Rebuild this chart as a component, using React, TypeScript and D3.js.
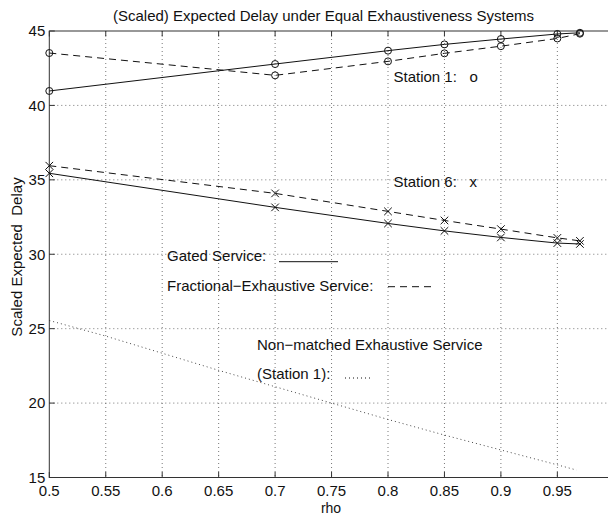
import { useEffect, useRef } from 'react'
import * as d3 from 'd3'

// sample points (rho) shared by the four marked curves
const rhoPts = [0.5, 0.7, 0.8, 0.85, 0.9, 0.95, 0.97]
const st1Gated = [40.97, 42.78, 43.68, 44.1, 44.46, 44.8, 44.88]
const st1Frac = [43.52, 42.02, 42.96, 43.5, 43.98, 44.5, 44.82]
const st6Gated = [35.44, 33.15, 32.07, 31.57, 31.13, 30.75, 30.69]
const st6Frac = [35.95, 34.09, 32.88, 32.27, 31.69, 31.1, 30.9]

// non-matched exhaustive service, station 1 (dotted)
const nmRho = [0.5, 0.55, 0.6, 0.65, 0.7, 0.75, 0.8, 0.85, 0.9, 0.95, 0.967]
const nmDelay = [25.55, 24.5, 23.35, 22.2, 21.1, 20.0, 18.9, 17.85, 16.85, 15.85, 15.5]

const xTicks = [0.5, 0.55, 0.6, 0.65, 0.7, 0.75, 0.8, 0.85, 0.9, 0.95, 1]
const yTicks = [15, 20, 25, 30, 35, 40, 45]

const FONT = '"Liberation Sans", Arial, Helvetica, sans-serif'

export default function App() {
  const svgRef = useRef<SVGSVGElement>(null)

  useEffect(() => {
    if (!svgRef.current) return
    const width = 608
    const height = 515
    const m = { top: 31, left: 49.3, right: 613.8, bottom: 477.5 }

    const svg = d3.select(svgRef.current)
    svg.selectAll('*').remove()
    svg.attr('width', width).attr('height', height)

    const x = d3.scaleLinear().domain([0.5, 1]).range([m.left, m.right])
    const y = d3.scaleLinear().domain([15, 45]).range([m.bottom, m.top])

    svg.append('rect').attr('width', width).attr('height', height).attr('fill', '#fff')

    // grid
    const grid = svg.append('g').attr('stroke', '#555').attr('stroke-width', 0.8).attr('stroke-dasharray', '1 3')
    grid.selectAll('line.v').data(xTicks.slice(1, -1)).enter().append('line')
      .attr('x1', d => x(d)).attr('x2', d => x(d)).attr('y1', m.top).attr('y2', m.bottom)
    grid.selectAll('line.h').data(yTicks.slice(1, -1)).enter().append('line')
      .attr('x1', m.left).attr('x2', m.right).attr('y1', d => y(d)).attr('y2', d => y(d))

    // axes box + inward ticks
    const ax = svg.append('g').attr('stroke', '#333').attr('stroke-width', 1).attr('fill', 'none')
    ax.append('rect').attr('x', m.left).attr('y', m.top).attr('width', m.right - m.left).attr('height', m.bottom - m.top)
    const tl = 5.5
    xTicks.forEach(t => {
      ax.append('line').attr('x1', x(t)).attr('x2', x(t)).attr('y1', m.bottom).attr('y2', m.bottom - tl)
      ax.append('line').attr('x1', x(t)).attr('x2', x(t)).attr('y1', m.top).attr('y2', m.top + tl)
    })
    yTicks.forEach(t => {
      ax.append('line').attr('x1', m.left).attr('x2', m.left + tl).attr('y1', y(t)).attr('y2', y(t))
      ax.append('line').attr('x1', m.right).attr('x2', m.right - tl).attr('y1', y(t)).attr('y2', y(t))
    })

    // tick labels
    const txt = svg.append('g').attr('font-family', FONT).attr('font-size', 15).attr('fill', '#111')
    txt.selectAll('text.x').data(xTicks.slice(0, -1)).enter().append('text')
      .attr('x', d => x(d)).attr('y', 496).attr('text-anchor', 'middle').text(d => String(d))
    txt.selectAll('text.y').data(yTicks).enter().append('text')
      .attr('x', m.left - 4).attr('y', d => y(d) + 5.3).attr('text-anchor', 'end').text(d => String(d))

    // titles
    txt.append('text').attr('x', 323.5).attr('y', 20.5).attr('text-anchor', 'middle')
      .text('(Scaled) Expected Delay under Equal Exhaustiveness Systems')
    txt.append('text').attr('x', 331).attr('y', 513).attr('font-size', 14).attr('text-anchor', 'middle').text('rho')
    txt.append('text').attr('transform', `translate(22,257) rotate(-90)`).attr('text-anchor', 'middle')
      .text('Scaled Expected\u00a0\u00a0Delay')

    // curves
    const line = d3.line<[number, number]>().x(d => x(d[0])).y(d => y(d[1]))
    const pts = (vals: number[], rs = rhoPts) => rs.map((r, i) => [r, vals[i]] as [number, number])
    const series = [
      { vals: st1Gated, dash: null, mark: 'o' },
      { vals: st1Frac, dash: '7 5', mark: 'o' },
      { vals: st6Gated, dash: null, mark: 'x' },
      { vals: st6Frac, dash: '7 5', mark: 'x' },
    ]
    const lines = svg.append('g').attr('fill', 'none').attr('stroke', '#111').attr('stroke-width', 1)
    series.forEach(s => {
      const p = lines.append('path').attr('d', line(pts(s.vals)))
      if (s.dash) p.attr('stroke-dasharray', s.dash)
      pts(s.vals).forEach(([r, v]) => {
        if (s.mark === 'o') {
          lines.append('circle').attr('cx', x(r)).attr('cy', y(v)).attr('r', 3.5)
        } else {
          const cx = x(r), cy = y(v), h = 3.8
          lines.append('path').attr('d', `M${cx - h},${cy - h}L${cx + h},${cy + h}M${cx - h},${cy + h}L${cx + h},${cy - h}`)
        }
      })
    })
    lines.append('path').attr('d', line(pts(nmDelay, nmRho))).attr('stroke', '#333')
      .attr('stroke-width', 0.9).attr('stroke-dasharray', '1 3')

    // in-plot annotations (legend text)
    txt.append('text').attr('x', 393.5).attr('y', 82).text('Station 1:\u00a0\u00a0\u00a0o')
    txt.append('text').attr('x', 393.5).attr('y', 187).text('Station 6:\u00a0\u00a0\u00a0x')
    txt.append('text').attr('x', 167).attr('y', 261).text('Gated Service:')
    txt.append('text').attr('x', 167).attr('y', 291).text('Fractional\u2212Exhaustive Service:')
    txt.append('text').attr('x', 257).attr('y', 350).text('Non\u2212matched Exhaustive Service')
    txt.append('text').attr('x', 257).attr('y', 379).text('(Station 1):')
    const leg = svg.append('g').attr('stroke', '#111').attr('stroke-width', 1)
    leg.append('line').attr('x1', 279).attr('x2', 338).attr('y1', 261.7).attr('y2', 261.7)
    leg.append('line').attr('x1', 388).attr('x2', 434).attr('y1', 286.7).attr('y2', 286.7).attr('stroke-dasharray', '7 5')
    leg.append('line').attr('x1', 345).attr('x2', 371).attr('y1', 378).attr('y2', 378).attr('stroke-dasharray', '1 3')
  }, [])

  return (
    <div style={{ position: 'fixed', left: 0, top: 0, width: 608, height: 515 }}>
      <svg ref={svgRef} style={{ display: 'block' }} />
    </div>
  )
}
